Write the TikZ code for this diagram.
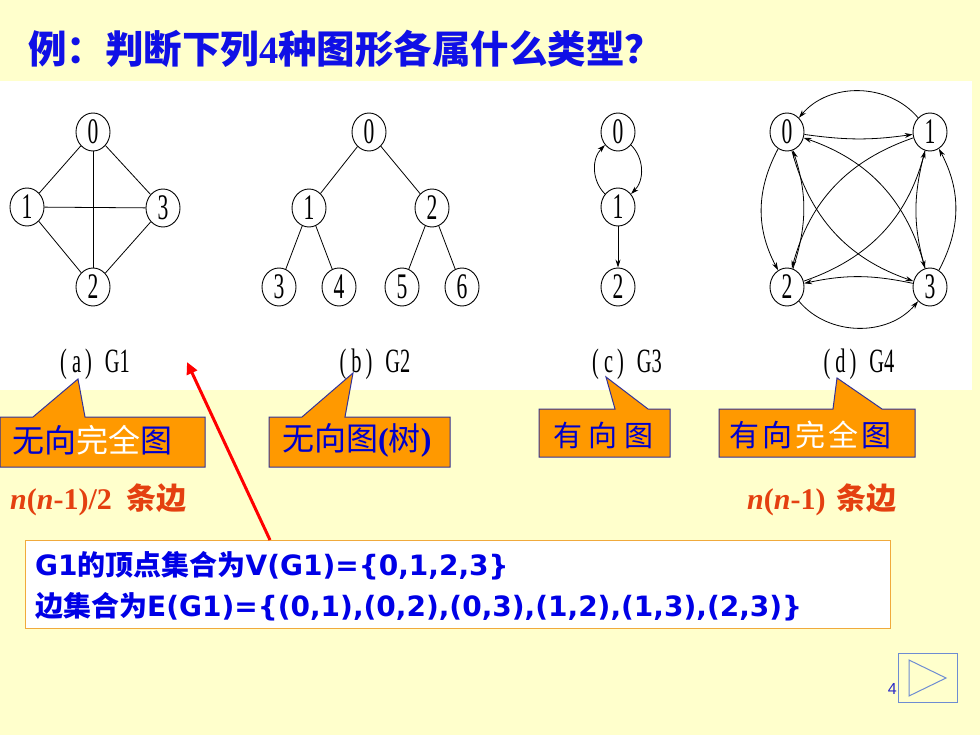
\documentclass[tikz,border=0pt]{standalone}
\usepackage{fontspec}
\usetikzlibrary{shapes.geometric,arrows.meta}
\setmainfont{Liberation Serif}
\newfontfamily\cjk{Noto Sans CJK SC}
\newfontfamily\dvs{DejaVu Sans}
\newfontfamily\cond[FakeStretch=0.6]{Liberation Serif}
\newfontfamily\lsans{Liberation Sans}
\definecolor{bg}{RGB}{255,255,204}
\definecolor{titleblue}{RGB}{16,16,230}
\definecolor{cblue}{RGB}{0,0,204}
\definecolor{corange}{RGB}{255,153,0}
\definecolor{cborder}{RGB}{51,51,153}
\definecolor{nred}{RGB}{228,64,16}
\definecolor{boxorange}{RGB}{240,170,60}
\definecolor{infoblue}{RGB}{0,0,230}
\definecolor{navblue}{RGB}{110,140,210}
\definecolor{navtext}{RGB}{40,40,200}
\newcommand\ntwo{{\bfseries\itshape n}{\bfseries (}{\bfseries\itshape n}{\bfseries -1)/2}\hspace{15pt}{\cjk\bfseries 条边}}
\newcommand\none{{\bfseries\itshape n}{\bfseries (}{\bfseries\itshape n}{\bfseries -1)}\hspace{11pt}{\cjk\bfseries 条边}}
\newcommand\capt[2]{(\kern5pt #1\kern4pt)\kern13pt #2}
\begin{document}
\begin{tikzpicture}[x=1pt,y=-1pt,
  vtx/.style={draw, ellipse, minimum width=34pt, minimum height=38pt, inner sep=0pt, fill=white, line width=0.9pt, font=\cond\fontsize{36}{36}\selectfont},
  lnk/.style={line width=0.8pt},
  darc/.style={line width=0.8pt, -{Stealth[length=8pt,width=5pt]}},
  gcap/.style={font=\cond\fontsize{34}{34}\selectfont, inner sep=0pt},
  callout/.style={fill=corange, draw=cborder, line width=1pt},
  ctext/.style={inner sep=0pt, text=cblue},
  ntext/.style={anchor=west, inner sep=0pt, font=\fontsize{30}{30}\selectfont},
  redarrow/.style={draw=red, line width=3pt, -{Triangle[length=12pt,width=11pt]}}
]
\useasboundingbox (0,0) rectangle (980,735);
\fill[bg] (0,0) rectangle (980,735);
\fill[white] (0,81) rectangle (972,390);

% title
\node[anchor=west, inner sep=0pt, text=titleblue, font=\cjk\bfseries\fontsize{38.5}{38.5}\selectfont] (title) at (28,49) {例：判断下列{\rmfamily\bfseries 4}种图形各属什么类型？};

% G1
\node[vtx] (a0) at (93,132) {0};
\node[vtx] (a1) at (27,207) {1};
\node[vtx] (a3) at (163,208) {3};
\node[vtx] (a2) at (93,287) {2};
\draw[lnk] (a0) -- (a1);
\draw[lnk] (a0) -- (a3);
\draw[lnk] (a0) -- (a2);
\draw[lnk] (a1) -- (a3);
\draw[lnk] (a1) -- (a2);
\draw[lnk] (a3) -- (a2);
\node[gcap] (capa) at (95,364) {\capt{a}{G1}};

% G2
\node[vtx] (b0) at (369,132) {0};
\node[vtx] (b1) at (309,208) {1};
\node[vtx] (b2) at (432,208) {2};
\node[vtx] (b3) at (279,287) {3};
\node[vtx] (b4) at (339,287) {4};
\node[vtx] (b5) at (402,287) {5};
\node[vtx] (b6) at (462,287) {6};
\draw[lnk] (b0) -- (b1);
\draw[lnk] (b0) -- (b2);
\draw[lnk] (b1) -- (b3);
\draw[lnk] (b1) -- (b4);
\draw[lnk] (b2) -- (b5);
\draw[lnk] (b2) -- (b6);
\node[gcap] (capb) at (375,364) {\capt{b}{G2}};

% G3
\node[vtx] (c0) at (618,132) {0};
\node[vtx] (c1) at (618,207) {1};
\node[vtx] (c2) at (618,287) {2};
\draw[darc] (c0) to[bend left=45] (c1);
\draw[darc] (c1) to[bend left=45] (c0);
\draw[darc] (c1) -- (c2);
\node[gcap] (capc) at (627,364) {\capt{c}{G3}};

% G4
\node[vtx] (d0) at (787,132) {0};
\node[vtx] (d1) at (930,132) {1};
\node[vtx] (d2) at (787,287) {2};
\node[vtx] (d3) at (930,287) {3};
\draw[darc] (d0) to[bend right=8] (d1);
\draw[darc] (d1) to[bend right=50] (d0);
\draw[darc] (d0) to[bend right=28] (d2);
\draw[darc] (d2) to[bend right=18] (d0);
\draw[darc] (d1) to[bend right=15] (d3);
\draw[darc] (d3) to[bend right=28] (d1);
\draw[darc] (d3) to[bend right=12] (d2);
\draw[darc] (d2) to[bend right=50] (d3);
\draw[darc] (d0) to[bend right=28] (d3);
\draw[darc] (d3) to[bend right=28] (d0);
\draw[darc] (d1) to[bend right=28] (d2);
\draw[darc] (d2) to[bend right=28] (d1);
\node[gcap] (capd) at (859,364) {\capt{d}{G4}};

% callouts
\filldraw[callout] (0,417) -- (33,417) -- (78,379) -- (85,417) -- (205,417) -- (205,467) -- (0,467) -- cycle;
\filldraw[callout] (269,417) -- (302,417) -- (353,373) -- (345,417) -- (450,417) -- (450,467) -- (269,467) -- cycle;
\filldraw[callout] (539,409) -- (615,409) -- (606,377) -- (648,409) -- (670,409) -- (670,457) -- (539,457) -- cycle;
\filldraw[callout] (719,409) -- (833,409) -- (837,378) -- (882,409) -- (915,409) -- (915,457) -- (719,457) -- cycle;
\node[ctext, anchor=west, font=\cjk\fontsize{32}{32}\selectfont] (t1) at (12,440) {无向\textcolor{white}{完全}图};
\node[ctext, anchor=west, font=\cjk\fontsize{32}{32}\selectfont] (t2) at (282,440) {无向图{\rmfamily\bfseries(}树{\rmfamily\bfseries)}};
\node[ctext, font=\cjk\fontsize{29}{29}\selectfont] (t3) at (603.5,435) {有\kern7pt 向\kern7pt 图};
\node[ctext, font=\cjk\fontsize{30}{30}\selectfont] (t4) at (810.5,435) {有\kern3pt 向\kern3pt \textcolor{white}{完\kern3pt 全}\kern3pt 图};

% edge counts
\node[ntext, text=nred] (e1) at (10,500) {\ntwo};
\node[ntext, text=nred] (e2) at (747,500) {\none};

% info box
\node[draw=boxorange, fill=white, line width=1pt, minimum width=865pt, minimum height=88pt, anchor=north west, inner sep=0pt] (infobox) at (25,540) {};
\node[anchor=west, align=left, inner sep=0pt, text=infoblue, font=\fontsize{28}{41}\selectfont] (info) at (35,586)
 {{\dvs\bfseries G1}{\cjk\bfseries 的顶点集合为}{\dvs\bfseries V(G1)=\{0,1,2,3\}}\\
  {\cjk\bfseries 边集合为}{\dvs\bfseries E(G1)=\{(0,1),(0,2),(0,3),(1,2),(1,3),(2,3)\}}};

% red arrow
\coordinate (rstart) at (270,540);
\coordinate (rtip) at (187,362);
\draw[redarrow] (rstart) -- (rtip);

% navigation button
\node[draw=navblue, line width=1pt, minimum width=59pt, minimum height=49pt, anchor=north west, inner sep=0pt] (nav) at (898,653) {};
\draw[navblue, line width=1pt] (909,660) -- (946,678) -- (909,696) -- cycle;
\node[anchor=east, inner sep=0pt, text=navtext, font=\lsans\fontsize{16}{16}\selectfont] (pg) at (897,689) {4};
\end{tikzpicture}
\end{document}
